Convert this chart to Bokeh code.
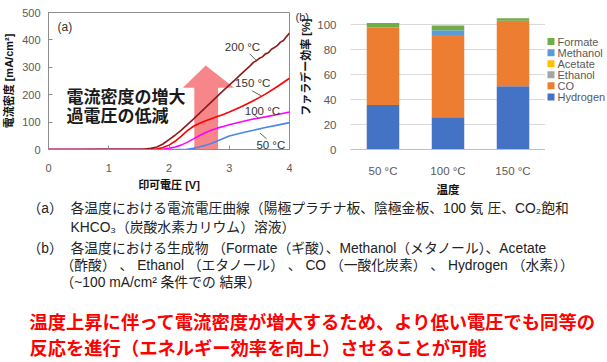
import math
from bokeh.plotting import figure
from bokeh.models import Range1d, FactorRange, ColumnDataSource
from bokeh.layouts import column, row
from bokeh.embed import file_html
from bokeh.resources import INLINE
from bokeh.core.properties import value

# ---------------- (a) current density vs applied voltage ----------------
v_200 = [0.0, 0.5, 1.0, 1.5, 1.6, 1.7, 1.8, 1.9, 2.0, 2.1, 2.2, 2.3, 2.4, 2.5, 2.6, 2.7, 2.8, 2.9,
         3.0, 3.1, 3.2, 3.3, 3.35, 3.4, 3.45, 3.5, 3.55, 3.6, 3.65, 3.7, 3.75, 3.8, 3.85, 3.9, 3.95, 4.0]
j_200 = [0, 0, 1, 1, 2, 4, 9, 20, 36, 52, 70, 90, 110, 131, 152, 173, 194, 215,
         235, 255, 276, 296, 306, 318, 324, 333, 338, 349, 353, 366, 372, 380, 392, 398, 412, 425]

v_150 = [0.0, 1.0, 1.5, 1.8, 1.9, 2.0, 2.1, 2.2, 2.3, 2.4, 2.5, 2.6, 2.7, 2.8, 2.9, 3.0, 3.2, 3.4, 3.6, 3.8, 4.0]
j_150 = [0, 0, 0, 2, 7, 16, 30, 48, 68, 84, 95, 104, 112, 120, 128, 137, 156, 178, 202, 230, 260]

v_100 = [0.0, 1.5, 1.9, 2.0, 2.1, 2.2, 2.3, 2.4, 2.5, 2.6, 2.7, 2.8, 2.9, 3.0, 3.2, 3.4, 3.6, 3.8, 4.0]
j_100 = [0, 0, 1, 4, 9, 16, 26, 38, 50, 61, 70, 78, 84, 90, 101, 111, 119, 128, 137]

v_50 = [0.0, 2.0, 2.3, 2.4, 2.5, 2.6, 2.7, 2.8, 2.9, 3.0, 3.2, 3.4, 3.6, 3.8, 4.0]
j_50 = [0, 0, 1, 4, 9, 15, 22, 31, 40, 49, 60, 70, 80, 89, 98]

curve_labels = ["200 °C", "150 °C", "100 °C", "50 °C"]
curve_label_x = [3.22, 3.39, 3.55, 3.69]
curve_label_y = [373, 243, 141, 18]
leader_x0 = [3.34, 3.38, 3.39, 3.51]
leader_y0 = [349, 214, 130, 60]
leader_x1 = [3.44, 3.53, 3.49, 3.62]
leader_y1 = [327, 196, 113, 39]

arrow_x = [2.42, 2.42, 2.23, 2.61, 3.08, 2.815, 2.815]
arrow_y = [2, 225, 225, 307, 225, 225, 2]

x_ticks_a = [0, 1, 2, 3, 4]
y_ticks_a = [0, 100, 200, 300, 400, 500]

# ---------------- (b) Faradaic efficiency ----------------
temps = ["50 °C", "100 °C", "150 °C"]
hydrogen = [35.8, 25.8, 50.8]
co = [62.2, 66.1, 52.6]
ethanol = [0.0, 0.0, 0.0]
acetate = [0.0, 0.0, 0.0]
methanol = [0.0, 3.9, 0.0]
formate = [3.5, 3.7, 2.0]
products = ["Hydrogen", "CO", "Ethanol", "Acetate", "Methanol", "Formate"]
product_colors = ["#4472C4", "#ED7D31", "#A5A5A5", "#FFC000", "#5B9BD5", "#70AD47"]
y_ticks_b = [0, 20, 40, 60, 80, 100]

# legend rows (top to bottom)
legend_names = products[::-1]
legend_colors = product_colors[::-1]
legend_row_y = [42, 58, 74, 90, 106, 122]

# ---------------- captions ----------------
caption_text = ["（a）", "各温度における電流電圧曲線（陽極プラチナ板、陰極金板、100 気 圧、CO₂飽和",
                "KHCO₃（炭酸水素カリウム）溶液）",
                "（b）", "各温度における生成物 （Formate（ギ酸）、Methanol（メタノール）、Acetate",
                "（酢酸） 、 Ethanol （エタノール） 、 CO （一酸化炭素） 、 Hydrogen （水素））",
                "（~100 mA/cm² 条件での 結果）"]
caption_x = [27, 70, 70, 27, 70, 60, 60]
caption_y = [10, 10, 29, 50, 50, 67, 84]
red_text = ["温度上昇に伴って電流密度が増大するため、より低い電圧でも同等の",
            "反応を進行（エネルギー効率を向上）させることが可能"]
red_x = [29, 29]
red_y = [122, 148]

JP = value("Noto Sans CJK JP")
MIX_NAME = "'Liberation Sans', 'Noto Sans CJK JP'"
MIX = value(MIX_NAME)
TICK_COLOR = "#595959"
H = 198

# ================= figure (a) =================
p1 = figure(width=292, height=H, x_range=Range1d(0, 4), y_range=Range1d(0, 500),
            output_backend="svg", toolbar_location=None,
            min_border_left=47, min_border_right=3, min_border_top=12, min_border_bottom=44)
p1.outline_line_color = "#8c8c8c"
p1.grid.visible = False
for ax in (p1.xaxis, p1.yaxis):
    ax.axis_line_color = "#8c8c8c"
    ax.major_tick_line_color = "#8c8c8c"
    ax.major_tick_in = 4
    ax.major_tick_out = 0
    ax.minor_tick_line_color = None
    ax.major_label_text_font = "Liberation Sans"
    ax.major_label_text_font_size = "11px"
    ax.major_label_text_color = TICK_COLOR
    ax.axis_label_text_font = MIX_NAME
    ax.axis_label_text_font_size = "11px"
    ax.axis_label_text_font_style = "bold"
    ax.axis_label_text_color = "#111111"
p1.xaxis.ticker = x_ticks_a
p1.yaxis.ticker = y_ticks_a
p1.xaxis.axis_label = "印可電圧 [V]"
p1.yaxis.axis_label = "電流密度 [mA/cm²]"
p1.xaxis.major_label_standoff = 14
p1.xaxis.axis_label_standoff = 4
p1.yaxis.major_label_standoff = 8
p1.yaxis.axis_label_standoff = 4

p1.patch(arrow_x, arrow_y, fill_color="#f7868a", line_color=None)
p1.line(v_50, j_50, line_color="#4a86e8", line_width=1.6)
p1.line(v_100, j_100, line_color="#ff00ff", line_width=1.6)
p1.line(v_150, j_150, line_color="#ff0000", line_width=1.6)
p1.line(v_200, j_200, line_color="#8b1a1a", line_width=1.6)
p1.segment(leader_x0, leader_y0, leader_x1, leader_y1, line_color="#606060", line_width=1)
p1.text(curve_label_x, curve_label_y, text=curve_labels, text_font=MIX,
        text_font_size="11.5px", text_color="#333333", text_align="center", text_baseline="middle")
p1.text([0.15], [447], text=["(a)"], text_font=value("Liberation Sans"),
        text_font_size="12px", text_color="#333333", text_baseline="middle")
p1.text([0.3, 0.3], [197, 127], text=["電流密度の増大", "過電圧の低減"], text_font=JP,
        text_font_size="17px", text_font_style="bold", text_color="#1a1a1a", text_baseline="middle")

# ================= (b) label + y title strip =================
pb = figure(width=22, height=H, x_range=Range1d(0, 22), y_range=Range1d(H, 0),
            output_backend="svg", toolbar_location=None,
            x_axis_location=None, y_axis_location=None,
            min_border_left=0, min_border_right=0, min_border_top=0, min_border_bottom=0)
pb.outline_line_color = None
pb.grid.visible = False
pb.text([3], [6], text=["(b)"], text_font=value("Liberation Sans"), text_font_size="11px",
        text_color="#333333", text_baseline="middle")
pb.text([13], [79], text=["ファラデー効率 [%]"], angle=math.pi / 2, text_font=MIX,
        text_font_size="11px", text_font_style="bold", text_color="#111111",
        text_align="center", text_baseline="middle")

# ================= figure (b) =================
p2 = figure(width=231, height=H, x_range=FactorRange(*temps), y_range=Range1d(0, 110),
            output_backend="svg", toolbar_location=None,
            min_border_left=36, min_border_right=0, min_border_top=6, min_border_bottom=43)
p2.outline_line_color = None
p2.xgrid.visible = False
p2.ygrid.grid_line_color = "#d9d9d9"
p2.yaxis.ticker = y_ticks_b
for ax in (p2.xaxis, p2.yaxis):
    ax.major_tick_line_color = None
    ax.minor_tick_line_color = None
    ax.major_label_text_font = "Liberation Sans"
    ax.major_label_text_font_size = "11.5px"
    ax.major_label_text_color = TICK_COLOR
    ax.axis_label_text_font = MIX_NAME
    ax.axis_label_text_font_size = "11.5px"
    ax.axis_label_text_font_style = "bold"
    ax.axis_label_text_color = "#111111"
p2.yaxis.axis_line_color = None
p2.xaxis.axis_line_color = "#bfbfbf"
p2.xaxis.axis_label = "温度"
p2.xaxis.major_label_standoff = 9
p2.xaxis.axis_label_standoff = 4
p2.yaxis.major_label_standoff = 8

src = ColumnDataSource(dict(temp=temps, Hydrogen=hydrogen, CO=co, Ethanol=ethanol,
                            Acetate=acetate, Methanol=methanol, Formate=formate))
p2.vbar_stack(products, x="temp", width=0.5, color=product_colors, line_color=None, source=src)

# ================= legend strip =================
pl = figure(width=62, height=H, x_range=Range1d(0, 62), y_range=Range1d(H, 0),
            output_backend="svg", toolbar_location=None,
            x_axis_location=None, y_axis_location=None,
            min_border_left=0, min_border_right=0, min_border_top=0, min_border_bottom=0)
pl.outline_line_color = None
pl.grid.visible = False
pl.scatter([5.5] * len(legend_names), legend_row_y, marker="square", size=7,
           fill_color=legend_colors, line_color=None)
pl.text([12] * len(legend_names), legend_row_y, text=legend_names, text_font=value("Liberation Sans"),
        text_font_size="11px", text_color=TICK_COLOR, text_baseline="middle")

# ================= captions =================
p3 = figure(width=607, height=164, x_range=Range1d(0, 607), y_range=Range1d(164, 0),
            output_backend="svg", toolbar_location=None,
            x_axis_location=None, y_axis_location=None,
            min_border_left=0, min_border_right=0, min_border_top=0, min_border_bottom=0)
p3.outline_line_color = None
p3.grid.visible = False
p3.text(caption_x, caption_y, text=caption_text, text_font=MIX, text_font_size="13.8px",
        text_color="#222222", text_baseline="middle")
p3.text(red_x, red_y, text=red_text, text_font=JP, text_font_size="18.3px",
        text_font_style="bold", text_color="#ff0000", text_baseline="middle")

layout = column(row(p1, pb, p2, pl), p3)
open("out.html", "w").write(file_html(layout, INLINE))
